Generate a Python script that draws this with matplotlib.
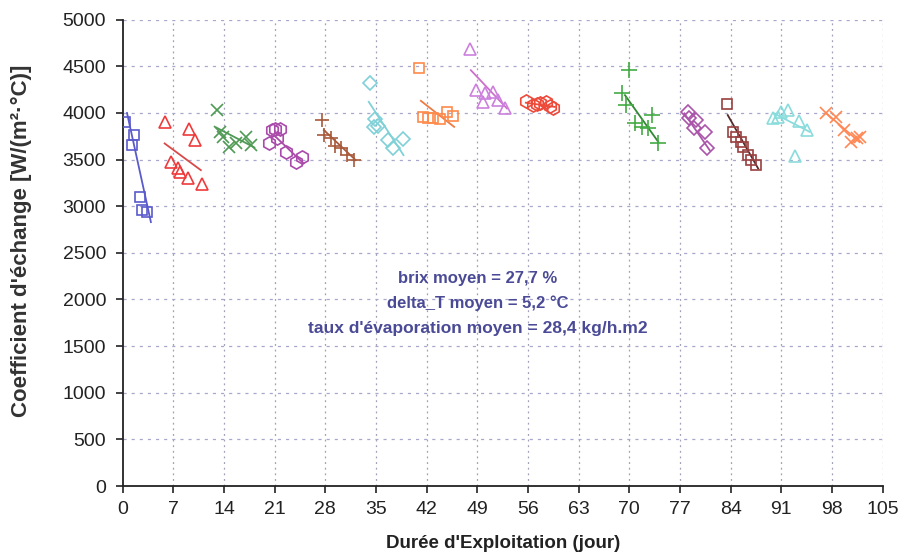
import matplotlib
matplotlib.use("Agg")
import matplotlib.pyplot as plt

plt.rcParams['font.family'] = ['Liberation Sans', 'DejaVu Sans']

# ---- data ----
s1_x = [0.3, 1.5, 1.3, 2.4, 2.7, 3.4]
s1_y = [3905, 3762, 3655, 3100, 2958, 2940]
s2_x = [5.8, 9.1, 10.0, 6.7, 7.7, 7.9, 9.0, 11.0]
s2_y = [3905, 3823, 3708, 3476, 3405, 3369, 3298, 3237]
s3_x = [13.1, 13.5, 13.8, 14.7, 15.6, 17.0, 17.7]
s3_y = [4037, 3797, 3744, 3637, 3673, 3744, 3655]
s4_x = [20.6, 21.0, 21.8, 20.2, 21.3, 22.5, 23.9, 24.8]
s4_y = [3816, 3827, 3823, 3673, 3727, 3583, 3476, 3523]
s5_x = [27.6, 27.8, 28.8, 29.4, 30.1, 31.0, 32.0]
s5_y = [3923, 3762, 3730, 3644, 3620, 3548, 3494]
s6_x = [34.2, 34.9, 34.7, 35.3, 36.7, 37.4, 38.8]
s6_y = [4323, 3930, 3845, 3859, 3709, 3620, 3716]
s7_x = [40.9, 41.5, 42.2, 42.9, 43.8, 44.8, 45.7]
s7_y = [4477, 3952, 3945, 3945, 3934, 4013, 3966]
s8_x = [48.0, 48.8, 50.1, 51.2, 49.8, 51.9, 52.8]
s8_y = [4691, 4244, 4209, 4226, 4119, 4137, 4048]
s9_x = [55.7, 56.7, 57.3, 57.6, 58.5, 59.0, 59.4]
s9_y = [4126, 4084, 4094, 4105, 4119, 4080, 4055]
s10_x = [69.9, 69.0, 69.6, 73.1, 70.8, 71.7, 72.6, 74.0]
s10_y = [4459, 4209, 4084, 3977, 3888, 3852, 3834, 3673]
s11_x = [78.1, 78.3, 79.2, 79.0, 80.4, 80.8]
s11_y = [4012, 3941, 3923, 3834, 3798, 3620]
s12_x = [83.5, 84.3, 84.8, 85.5, 85.7, 86.4, 86.8, 87.5]
s12_y = [4094, 3797, 3744, 3690, 3637, 3548, 3494, 3441]
s13_x = [89.8, 90.5, 91.0, 91.9, 93.5, 94.5, 92.9]
s13_y = [3941, 3958, 4012, 4030, 3915, 3816, 3537]
s14_x = [97.2, 98.5, 99.6, 100.6, 101.5, 101.9]
s14_y = [3998, 3958, 3816, 3690, 3727, 3740]

# trend lines (start / end)
t1_x, t1_y = [0.6, 3.9], [4000, 2830]
t2_x, t2_y = [5.8, 10.8], [3673, 3387]
t3_x, t3_y = [12.9, 18.2], [3845, 3630]
t4_x, t4_y = [20.9, 25.0], [3762, 3459]
t5_x, t5_y = [27.8, 32.2], [3816, 3494]
t6_x, t6_y = [34.0, 38.8], [4119, 3548]
t7_x, t7_y = [41.2, 45.8], [4130, 3851]
t8_x, t8_y = [48.1, 53.1], [4459, 4048]
t9_x, t9_y = [55.7, 59.7], [4110, 4065]
t10_x, t10_y = [69.4, 74.0], [4191, 3690]
t11_x, t11_y = [77.6, 81.1], [3995, 3601]
t12_x, t12_y = [83.6, 87.8], [3977, 3405]
t13_x, t13_y = [90.0, 94.9], [3995, 3798]
t14_x, t14_y = [97.2, 101.8], [3998, 3688]

x_ticks = list(range(0, 106, 7))
y_ticks = list(range(0, 5001, 500))

series = [
    (s1_x, s1_y, t1_x, t1_y, 's', '#5a5acc', '#5a5acc', 7.5),
    (s2_x, s2_y, t2_x, t2_y, '^', '#ee3a3a', '#d84a4a', 9),
    (s3_x, s3_y, t3_x, t3_y, 'x', '#4f9a55', '#4f9a55', 9),
    (s4_x, s4_y, t4_x, t4_y, 'h', '#aa4aaa', '#aa4aaa', 9.5),
    (s5_x, s5_y, t5_x, t5_y, '+', '#a85a3a', '#a85a3a', 10),
    (s6_x, s6_y, t6_x, t6_y, 'D', '#80d0d8', '#80d0d8', 7.5),
    (s7_x, s7_y, t7_x, t7_y, 's', '#ff8a4a', '#ee7a44', 7.5),
    (s8_x, s8_y, t8_x, t8_y, '^', '#cc80dd', '#cc70cc', 9),
    (s9_x, s9_y, t9_x, t9_y, 'h', '#ee4a3a', '#ee4a3a', 9.5),
    (s10_x, s10_y, t10_x, t10_y, '+', '#44aa44', '#338833', 11),
    (s11_x, s11_y, t11_x, t11_y, 'D', '#aa55aa', '#aa55aa', 7.5),
    (s12_x, s12_y, t12_x, t12_y, 's', '#994040', '#552a2a', 7.5),
    (s13_x, s13_y, t13_x, t13_y, '^', '#8adcdc', '#8adcdc', 9),
    (s14_x, s14_y, t14_x, t14_y, 'x', '#ff8855', '#ff8855', 9),
]

fig = plt.figure(figsize=(9, 5.55), dpi=100)
ax = fig.add_axes([0.1363, 0.1243, 0.8444, 0.8402])

ax.set_xlim(0, 105)
ax.set_ylim(0, 5000)
ax.set_xticks(x_ticks)
ax.set_yticks(y_ticks)

for x in x_ticks[1:]:
    ax.axvline(x, color='#a0a0b8', lw=0.9, ls=(0, (1.5, 3)), zorder=0)
for y in y_ticks[1:]:
    ax.axhline(y, color='#a8a8cc', lw=0.9, ls=(0, (2.5, 4)), zorder=0)

for sx, sy, tx, ty, m, c, lc, ms in series:
    ax.plot(tx, ty, color=lc, lw=1.3, zorder=2)
    ax.plot(sx, sy, ls='none', marker=m, ms=ms, mfc='none', mec=c,
            mew=1.2, zorder=3)

for side in ['top', 'right']:
    ax.spines[side].set_visible(False)
for side in ['left', 'bottom']:
    ax.spines[side].set_color('#222222')
    ax.spines[side].set_linewidth(1.3)

ax.tick_params(axis='both', direction='out', length=5, width=1.2,
               color='#222222', labelcolor='#222222', labelsize=14)
ax.tick_params(axis='y', pad=7)
ax.tick_params(axis='x', pad=6)

ax.set_xlabel("Durée d'Exploitation (jour)", fontsize=13.5, fontweight='bold',
              color='#222222', labelpad=12)
ax.set_ylabel("Coefficient d'échange [W/(m²·°C)]", fontsize=16,
              fontweight='bold', color='#333333', labelpad=12)
ax.yaxis.set_label_coords(-0.119, 0.525)

txt_color = '#4a4a96'
ax.text(49, 2220, "brix moyen = 27,7 %", ha='center', va='center',
        fontsize=12, fontweight='bold', color=txt_color)
ax.text(49, 1960, "delta_T moyen = 5,2 °C", ha='center', va='center',
        fontsize=12, fontweight='bold', color=txt_color)
ax.text(49, 1690, "taux d'évaporation moyen = 28,4 kg/h.m2", ha='center',
        va='center', fontsize=12.5, fontweight='bold', color=txt_color)

fig.savefig('out.png', dpi=100)
